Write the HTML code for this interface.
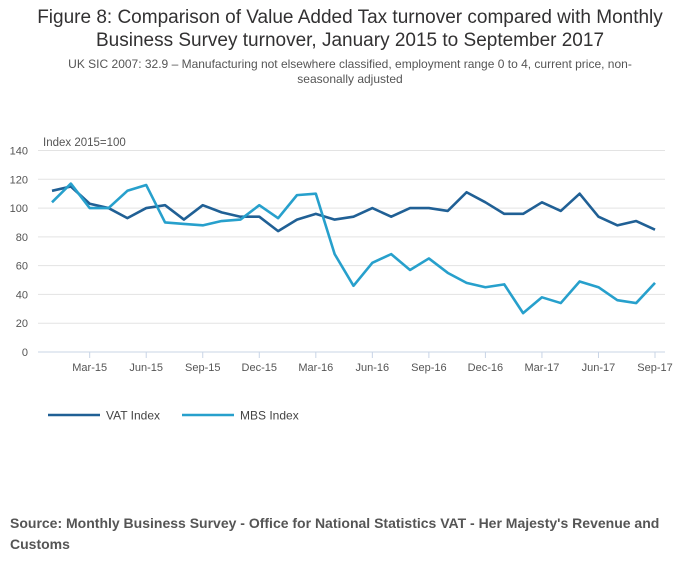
<!DOCTYPE html>
<html><head><meta charset="utf-8"><style>
body{margin:0;background:#fff;font-family:"Liberation Sans",sans-serif;}
#wrap{position:relative;width:700px;height:574px;overflow:hidden}
.t{position:absolute;left:0;width:700px;text-align:center;color:#323132}
</style></head><body>
<div id="wrap">
<div class="t" style="top:6px;font-size:19px;line-height:23px">Figure 8: Comparison of Value Added Tax turnover compared with Monthly<br>Business Survey turnover, January 2015 to September 2017</div>
<div class="t" style="top:57px;font-size:12px;line-height:15px;color:#555">UK SIC 2007: 32.9 – Manufacturing not elsewhere classified, employment range 0 to 4, current price, non-<br>seasonally adjusted</div>
<svg id="c" width="700" height="574" style="position:absolute;left:0;top:0"></svg>
<div style="position:absolute;left:10px;top:513px;width:680px;font-size:14px;line-height:21px;font-weight:bold;color:#555">Source: Monthly Business Survey - Office for National Statistics VAT - Her Majesty's Revenue and Customs</div>
</div>
<script>
const months=["Jan-15","Feb-15","Mar-15","Apr-15","May-15","Jun-15","Jul-15","Aug-15","Sep-15","Oct-15","Nov-15","Dec-15","Jan-16","Feb-16","Mar-16","Apr-16","May-16","Jun-16","Jul-16","Aug-16","Sep-16","Oct-16","Nov-16","Dec-16","Jan-17","Feb-17","Mar-17","Apr-17","May-17","Jun-17","Jul-17","Aug-17","Sep-17"];
const vatIndex=[112,115,103,100,93,100,102,92,102,97,94,94,84,92,96,92,94,100,94,100,100,98,111,104,96,96,104,98,110,94,88,91,85];
const mbsIndex=[104,117,100,100,112,116,90,89,88,91,92,102,93,109,110,68,46,62,68,57,65,55,48,45,47,27,38,34,49,45,36,34,48];
const yTicks=[0,20,40,60,80,100,120,140];
const xTickLabels=["Mar-15","Jun-15","Sep-15","Dec-15","Mar-16","Jun-16","Sep-16","Dec-16","Mar-17","Jun-17","Sep-17"];
const svg=document.getElementById('c');const NS='http://www.w3.org/2000/svg';
const x=i=>52+i*(655-52)/32;
const y=v=>352-v*(352-150.5)/140;
function mk(tag,a){const e=document.createElementNS(NS,tag);for(const k in a)e.setAttribute(k,a[k]);svg.appendChild(e);return e;}
yTicks.forEach(v=>{
 const l=mk('line',{x1:38,x2:665,y1:y(v),y2:y(v),stroke:v===0?'#c8d4e6':'#e3e3e3','stroke-width':1});
 
 
 const t=mk('text',{x:28,y:y(v)+4,'text-anchor':'end','font-size':11,fill:'#555','font-family':'Liberation Sans, sans-serif'});t.textContent=v;
 
 
});
const yt=mk('text',{x:43,y:146,'font-size':11.5,fill:'#555','font-family':'Liberation Sans, sans-serif'});yt.textContent='Index 2015=100';


xTickLabels.forEach(lb=>{const i=months.indexOf(lb);
 const tk=mk('line',{x1:x(i),x2:x(i),y1:352,y2:358,stroke:'#c8d4e6'});
 
 
 const t=mk('text',{x:x(i),y:371,'text-anchor':'middle','font-size':11,fill:'#555','font-family':'Liberation Sans, sans-serif'});t.textContent=lb;
 
 
});
function series(d,col,name){const p=mk('polyline',{points:d.map((v,i)=>x(i)+','+y(v)).join(' '),fill:'none',stroke:col,'stroke-width':2.6,'stroke-linejoin':'round'});
 
 }
series(vatIndex,'#206095','vat-index-line');
series(mbsIndex,'#27a0cc','mbs-index-line');
[[ '#206095','VAT Index',48],['#27a0cc','MBS Index',182]].forEach(([c,n,lx])=>{
 const g=mk('g',{});
 
 
 const l=document.createElementNS(NS,'line');[['x1',lx],['x2',lx+52],['y1',415],['y2',415],['stroke',c],['stroke-width',2.6]].forEach(([k,v])=>l.setAttribute(k,v));g.appendChild(l);
 const t=document.createElementNS(NS,'text');[['x',lx+58],['y',419.5],['font-size',12],['fill','#444'],['font-family','Liberation Sans, sans-serif']].forEach(([k,v])=>t.setAttribute(k,v));t.textContent=n;g.appendChild(t);
});
</script>
</body></html>
